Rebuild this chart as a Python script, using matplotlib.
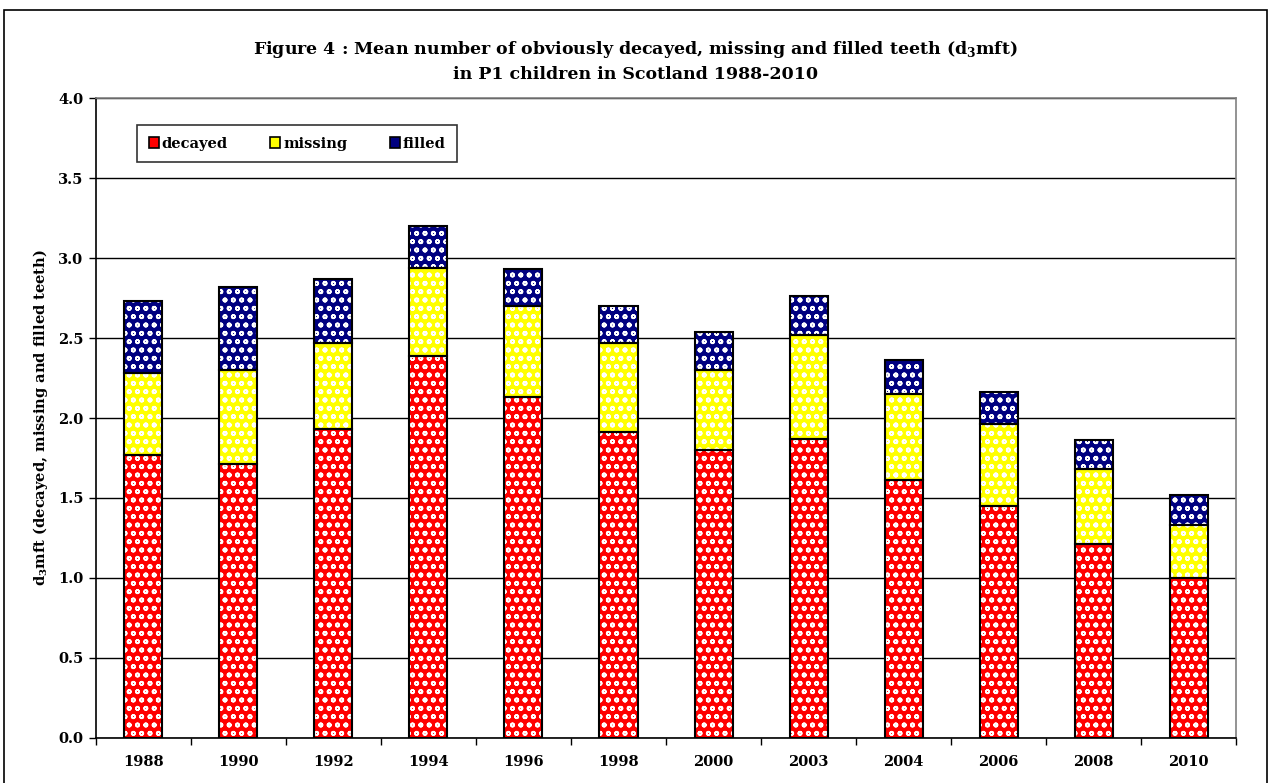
import numpy as np
import matplotlib.pyplot as plt
from matplotlib.patches import Rectangle

years = ['1988', '1990', '1992', '1994', '1996', '1998', '2000', '2003', '2004', '2006', '2008', '2010']
decayed = [1.77, 1.71, 1.93, 2.39, 2.13, 1.91, 1.80, 1.87, 1.61, 1.45, 1.21, 1.00]
missing = [0.51, 0.59, 0.54, 0.55, 0.57, 0.56, 0.50, 0.65, 0.54, 0.51, 0.47, 0.33]
filled = [0.45, 0.52, 0.40, 0.26, 0.23, 0.23, 0.24, 0.24, 0.21, 0.20, 0.18, 0.19]

series = [('decayed', decayed, '#ff0000'),
          ('missing', missing, '#ffff00'),
          ('filled', filled, '#000080')]

plt.rcParams['font.family'] = 'DejaVu Serif'
plt.rcParams['font.weight'] = 'bold'
plt.rcParams['hatch.linewidth'] = 1.2

fig = plt.figure(figsize=(12.71, 7.83), dpi=100)
ax = fig.add_axes([0.0755, 0.0575, 0.897, 0.8173])

x = np.arange(len(years))
w = 0.4
bottom = np.zeros(len(years))
handles = []
for name, vals, col in series:
    vals = np.array(vals)
    # coloured fill with white bubble pattern
    ax.bar(x, vals, w, bottom=bottom, color=col, edgecolor='white',
           hatch='oo', linewidth=0, zorder=3)
    # black outline on top
    ax.bar(x, vals, w, bottom=bottom, fill=False, edgecolor='black',
           linewidth=1.5, zorder=4)
    handles.append(Rectangle((0, 0), 1, 1, facecolor=col, edgecolor='black',
                             linewidth=1.2, label=name))
    bottom = bottom + vals

ax.set_xlim(-0.5, len(years) - 0.5)
ax.set_ylim(0, 4.0)
ax.set_yticks(np.arange(0, 4.01, 0.5))
ax.set_yticklabels(['%.1f' % v for v in np.arange(0, 4.01, 0.5)], fontsize=10.5)
ax.set_xticks(x)
ax.set_xticklabels(years, fontsize=10.5)
ax.set_xticks(np.arange(-0.5, len(years)), minor=True)
ax.tick_params(axis='x', which='major', length=0, pad=12)
ax.tick_params(axis='x', which='minor', length=5, width=1, direction='out')
ax.tick_params(axis='y', length=5, width=1, direction='out', pad=4)

ax.yaxis.grid(True, color='black', linewidth=1, zorder=0)
ax.set_axisbelow(True)
for s in ['top', 'right']:
    ax.spines[s].set_color('#808080')
    ax.spines[s].set_linewidth(1.2)
for s in ['left', 'bottom']:
    ax.spines[s].set_color('black')
    ax.spines[s].set_linewidth(1.2)

ax.set_ylabel(r'd$_\mathregular{3}$mft (decayed, missing and filled teeth)',
              fontsize=10.5, fontweight='bold', labelpad=6)

fig.text(0.5, 0.922, 'Figure 4 : Mean number of obviously decayed, missing and filled teeth (d$_\\mathregular{3}$mft)\n'
         'in P1 children in Scotland 1988-2010', ha='center', va='center',
         fontsize=12.5, fontweight='bold', linespacing=1.5)

leg = ax.legend(handles=handles, loc='upper left', bbox_to_anchor=(0.036, 0.958),
                ncol=3, fontsize=10.5, frameon=True, fancybox=False,
                edgecolor='black', handlelength=0.7, handleheight=0.7,
                handletextpad=0.2, columnspacing=2.9, borderpad=0.8,
                borderaxespad=0)
leg.get_frame().set_linewidth(1.2)

# outer chart border
fig.patches.append(Rectangle((0.0035, -0.05), 0.993, 1.037, transform=fig.transFigure,
                             fill=False, edgecolor='black', linewidth=1.2))

plt.savefig('out.png', dpi=100)
